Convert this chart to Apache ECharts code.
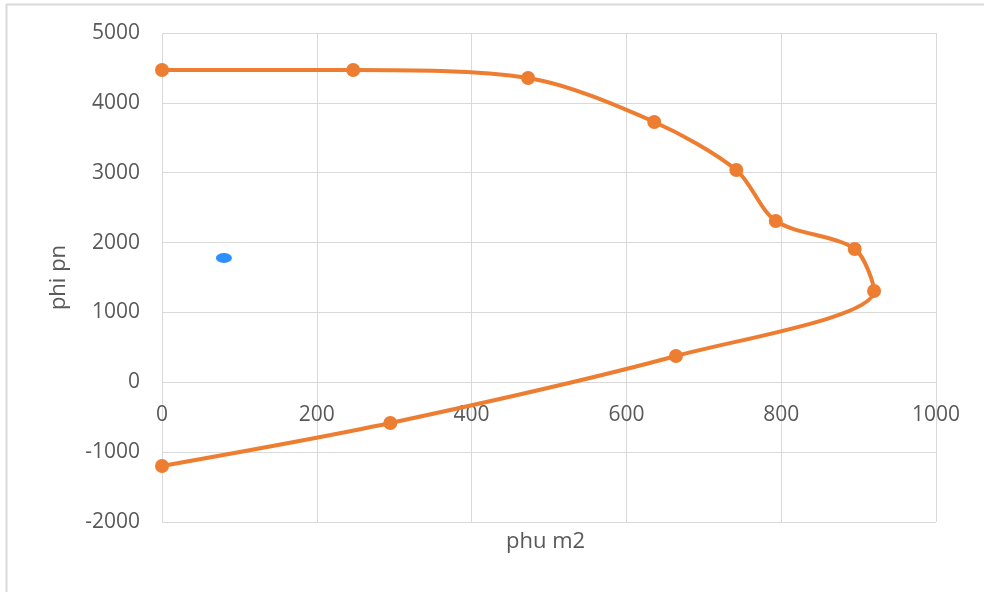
<!DOCTYPE html>
<html>
<head>
<meta charset="utf-8">
<script src="https://cdn.jsdelivr.net/npm/echarts@6/dist/echarts.min.js"></script>
<style>html,body{margin:0;padding:0;background:#fff}#c{width:984px;height:592px}</style>
</head>
<body>
<div id="c"></div>
<script>
const curveX = [0, 247, 473, 636, 742, 793, 895, 920, 664, 295, 0];
const curveY = [4470, 4470, 4356, 3726, 3039, 2309, 1908, 1307, 376, -583, -1198];
const extraX = [80];
const extraY = [1779];
const xTicks = {min: 0, max: 1000, interval: 200};
const yTicks = {min: -2000, max: 5000, interval: 1000};
const xName = 'phu m2';
const yName = 'phi pn';

const chart = echarts.init(document.getElementById('c'), null, {renderer: 'canvas'});
const font = '"Open Sans", "Noto Sans", sans-serif';
chart.setOption({
  animation: false,
  backgroundColor: '#fff',
  grid: {left: 162, right: 48, top: 33, bottom: 70},
  xAxis: {
    type: 'value', min: xTicks.min, max: xTicks.max, interval: xTicks.interval,
    offset: -139,
    axisLine: {show: false, onZero: false},
    axisTick: {show: false},
    axisLabel: {color: '#595959', fontSize: 21, margin: 22, fontFamily: font, formatter: v => String(v)},
    splitLine: {show: true, lineStyle: {color: '#d9d9d9', width: 1}}
  },
  yAxis: {
    type: 'value', min: yTicks.min, max: yTicks.max, interval: yTicks.interval,
    name: yName, nameLocation: 'middle', nameGap: 92,
    nameTextStyle: {color: '#595959', fontSize: 22, fontFamily: font},
    axisLine: {show: false},
    axisTick: {show: false},
    axisLabel: {color: '#595959', fontSize: 21, margin: 22, fontFamily: font, formatter: v => String(v)},
    splitLine: {show: true, lineStyle: {color: '#d9d9d9', width: 1}}
  },
  graphic: [
    {type: 'line', shape: {x1: 6, y1: 4.5, x2: 984, y2: 4.5}, style: {stroke: '#d9d9d9', lineWidth: 2}},
    {type: 'line', shape: {x1: 6.5, y1: 4, x2: 6.5, y2: 592}, style: {stroke: '#d9d9d9', lineWidth: 2}},
    {type: 'text', left: 506, top: 531, style: {text: xName, fill: '#595959', fontSize: 22, fontFamily: font}}
  ],
  series: [
    {
      type: 'line',
      data: curveX.map((x, i) => [x, curveY[i]]),
      smooth: 0.3,
      symbol: 'circle', symbolSize: 14,
      lineStyle: {color: '#ED7D31', width: 4},
      itemStyle: {color: '#ED7D31'}
    },
    {
      type: 'scatter',
      data: extraX.map((x, i) => [x, extraY[i]]),
      symbol: 'circle', symbolSize: [16, 10],
      itemStyle: {color: '#2E8FFF', opacity: 1}
    }
  ]
});
</script>
</body>
</html>
